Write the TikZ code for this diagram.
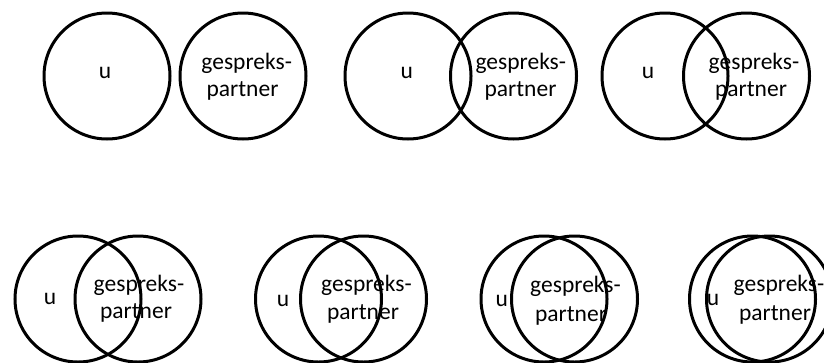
\documentclass[tikz,border=0pt]{standalone}
\usepackage{fontspec}
\setmainfont{Carlito}
\begin{document}
\begin{tikzpicture}[x=1pt,y=-1pt,
  ring/.style={draw=black,line width=3pt,circle,minimum size=126pt,inner sep=0pt},
  lbl/.style={inner sep=0pt,anchor=base,font=\fontsize{23.5}{28}\selectfont}]
\useasboundingbox (0,0) rectangle (824,362);
\clip (0,0) rectangle (824,362);

% row 1: apart, touching, overlapping
\node[ring] (l1) at (107,76) {};
\node[ring] (r1) at (243,76) {};
\node[ring] (l2) at (408,76) {};
\node[ring] (r2) at (513.5,76) {};
\node[ring] (l3) at (665,76) {};
\node[ring] (r3) at (746.5,76) {};

% row 2: growing overlap
\node[ring] (l4) at (78,299) {};
\node[ring] (r4) at (138,299) {};
\node[ring] (l5) at (318.5,299) {};
\node[ring] (r5) at (363.5,299) {};
\node[ring] (l6) at (544,299) {};
\node[ring] (r6) at (574.5,299) {};
\node[ring] (l7) at (752.5,299) {};
\node[ring] (r7) at (769.5,299) {};

% labels
\node[lbl] (u1) at (105,78.5) {u};
\node[lbl] (g1) at (246.7,69) {gespreks-};
\node[lbl] (p1) at (242.5,96) {partner};

\node[lbl] (u2) at (406.7,78.5) {u};
\node[lbl] (g2) at (520.8,69) {gespreks-};
\node[lbl] (p2) at (520.5,96) {partner};

\node[lbl] (u3) at (648,78.5) {u};
\node[lbl] (g3) at (754,69) {gespreks-};
\node[lbl] (p3) at (751,96) {partner};

\node[lbl] (u4) at (50,304.5) {u};
\node[lbl] (g4) at (139,291) {gespreks-};
\node[lbl] (p4) at (136,318.5) {partner};

\node[lbl] (u5) at (283,306.5) {u};
\node[lbl] (g5) at (366.5,291) {gespreks-};
\node[lbl] (p5) at (363,319) {partner};

\node[lbl] (u6) at (501.7,306.5) {u};
\node[lbl] (g6) at (575.5,292) {gespreks-};
\node[lbl] (p6) at (571,321) {partner};

\node[lbl] (u7) at (713,305.5) {u};
\node[lbl] (g7) at (779,291) {gespreks-};
\node[lbl] (p7) at (775,320) {partner};
\end{tikzpicture}
\end{document}
